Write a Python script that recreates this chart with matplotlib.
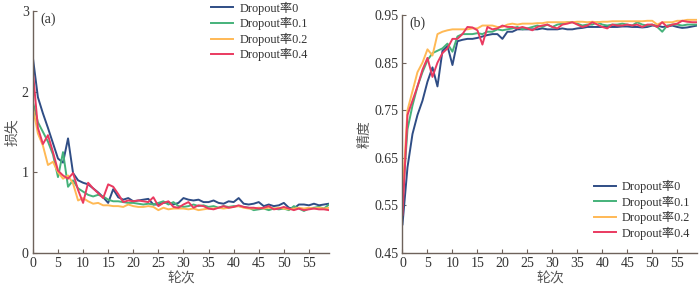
"""Loss and accuracy curves for different dropout rates."""

import matplotlib

matplotlib.use("Agg")
from matplotlib import pyplot as plt

SERIF = ["Liberation Serif", "Noto Sans CJK SC"]
CJK = ["Noto Sans CJK SC", "DejaVu Sans"]

epochs = list(range(60))
labels = ["Dropout率0", "Dropout率0.1", "Dropout率0.2", "Dropout率0.4"]
colors = ["#2f4d85", "#45b27a", "#ffb955", "#ea3a60"]

loss_d0 = [
	2.42, 1.93, 1.73, 1.55, 1.36, 1.17, 1.12, 1.42, 0.99, 0.90,
	0.87, 0.85, 0.80, 0.75, 0.69, 0.62, 0.79, 0.69, 0.66, 0.68,
	0.64, 0.65, 0.66, 0.67, 0.60, 0.60, 0.62, 0.63, 0.60, 0.62,
	0.68, 0.66, 0.65, 0.66, 0.63, 0.63, 0.65, 0.62, 0.61, 0.64,
	0.63, 0.68, 0.61, 0.60, 0.61, 0.63, 0.58, 0.60, 0.58, 0.59,
	0.62, 0.56, 0.55, 0.60, 0.60, 0.59, 0.61, 0.59, 0.60, 0.61,
]
loss_d1 = [
	1.87, 1.62, 1.50, 1.38, 1.22, 0.94, 1.25, 0.82, 0.90, 0.80,
	0.76, 0.72, 0.70, 0.72, 0.70, 0.66, 0.64, 0.64, 0.63, 0.62,
	0.62, 0.61, 0.60, 0.61, 0.60, 0.62, 0.64, 0.60, 0.63, 0.58,
	0.57, 0.58, 0.60, 0.58, 0.59, 0.57, 0.58, 0.56, 0.58, 0.57,
	0.58, 0.58, 0.57, 0.56, 0.53, 0.54, 0.55, 0.53, 0.55, 0.54,
	0.55, 0.53, 0.58, 0.55, 0.52, 0.55, 0.56, 0.57, 0.55, 0.60,
]
loss_d2 = [
	1.80, 1.48, 1.33, 1.09, 1.13, 1.00, 0.92, 0.96, 0.86, 0.65,
	0.68, 0.64, 0.61, 0.62, 0.59, 0.59, 0.58, 0.58, 0.57, 0.60,
	0.58, 0.57, 0.57, 0.58, 0.57, 0.53, 0.56, 0.54, 0.55, 0.55,
	0.55, 0.54, 0.55, 0.53, 0.54, 0.55, 0.55, 0.56, 0.55, 0.56,
	0.57, 0.58, 0.56, 0.55, 0.55, 0.56, 0.55, 0.56, 0.55, 0.56,
	0.55, 0.54, 0.55, 0.56, 0.55, 0.56, 0.55, 0.56, 0.55, 0.56,
]
loss_d4 = [
	2.25, 1.55, 1.35, 1.46, 1.25, 1.02, 0.96, 0.92, 0.99, 0.78,
	0.62, 0.87, 0.80, 0.74, 0.68, 0.85, 0.82, 0.73, 0.63, 0.65,
	0.64, 0.65, 0.64, 0.63, 0.69, 0.58, 0.62, 0.64, 0.57, 0.56,
	0.60, 0.63, 0.56, 0.59, 0.58, 0.55, 0.54, 0.56, 0.58, 0.56,
	0.57, 0.59, 0.57, 0.56, 0.56, 0.55, 0.56, 0.58, 0.54, 0.55,
	0.57, 0.55, 0.53, 0.55, 0.53, 0.54, 0.55, 0.54, 0.54, 0.53,
]

acc_d0 = [
	0.510, 0.630, 0.700, 0.740, 0.770, 0.810, 0.840, 0.800, 0.875, 0.885,
	0.845, 0.895, 0.898, 0.900, 0.900, 0.902, 0.905, 0.908, 0.910, 0.910,
	0.900, 0.915, 0.915, 0.920, 0.920, 0.920, 0.920, 0.920, 0.922, 0.920,
	0.920, 0.920, 0.922, 0.920, 0.920, 0.922, 0.923, 0.925, 0.925, 0.925,
	0.925, 0.925, 0.925, 0.925, 0.926, 0.926, 0.925, 0.925, 0.924, 0.925,
	0.928, 0.928, 0.925, 0.926, 0.928, 0.925, 0.923, 0.924, 0.926, 0.928,
]
acc_d1 = [
	0.560, 0.710, 0.760, 0.800, 0.830, 0.855, 0.870, 0.875, 0.880, 0.890,
	0.873, 0.905, 0.910, 0.910, 0.910, 0.912, 0.910, 0.915, 0.915, 0.920,
	0.918, 0.920, 0.922, 0.925, 0.920, 0.922, 0.925, 0.928, 0.925, 0.930,
	0.925, 0.930, 0.932, 0.935, 0.935, 0.932, 0.928, 0.930, 0.930, 0.935,
	0.930, 0.928, 0.930, 0.930, 0.932, 0.930, 0.928, 0.935, 0.930, 0.928,
	0.930, 0.925, 0.915, 0.928, 0.930, 0.930, 0.928, 0.930, 0.930, 0.930,
]
acc_d2 = [
	0.570, 0.750, 0.790, 0.830, 0.850, 0.878, 0.865, 0.910, 0.915, 0.918,
	0.920, 0.920, 0.920, 0.920, 0.922, 0.922, 0.928, 0.928, 0.928, 0.925,
	0.925, 0.930, 0.932, 0.930, 0.932, 0.932, 0.932, 0.933, 0.933, 0.935,
	0.935, 0.935, 0.935, 0.935, 0.935, 0.936, 0.936, 0.935, 0.936, 0.935,
	0.936, 0.936, 0.937, 0.937, 0.937, 0.937, 0.937, 0.937, 0.937, 0.938,
	0.938, 0.930, 0.935, 0.935, 0.935, 0.938, 0.938, 0.940, 0.940, 0.940,
]
acc_d4 = [
	0.530, 0.740, 0.770, 0.800, 0.835, 0.860, 0.820, 0.850, 0.870, 0.880,
	0.900, 0.900, 0.910, 0.925, 0.924, 0.918, 0.888, 0.925, 0.920, 0.922,
	0.928, 0.925, 0.925, 0.922, 0.925, 0.922, 0.918, 0.925, 0.928, 0.930,
	0.925, 0.922, 0.930, 0.932, 0.935, 0.930, 0.925, 0.928, 0.935, 0.930,
	0.925, 0.922, 0.930, 0.928, 0.928, 0.930, 0.928, 0.930, 0.925, 0.930,
	0.930, 0.925, 0.935, 0.925, 0.930, 0.932, 0.938, 0.936, 0.935, 0.935,
]

loss_series = [loss_d0, loss_d1, loss_d2, loss_d4]
acc_series = [acc_d0, acc_d1, acc_d2, acc_d4]

x_ticks = list(range(0, 60, 5))
loss_ticks = [0, 1, 2, 3]
acc_ticks = [0.45, 0.55, 0.65, 0.75, 0.85, 0.95]

spine_color = "#6e625b"
text_color = "#333333"

fig = plt.figure(figsize=(7.0, 2.9), dpi=100)
ax_a = fig.add_axes([0.047, 0.128, 0.423, 0.834])
ax_b = fig.add_axes([0.575, 0.128, 0.421, 0.820])


def _style_axes(ax, yticks, ylabel, tag, ylim, yfmt):
	ax.set_xlim(0, 59)
	ax.set_ylim(*ylim)
	ax.set_xticks(x_ticks)
	ax.set_yticks(yticks)
	ax.set_yticklabels([yfmt.format(t) for t in yticks])
	for side in ["top", "right"]:
		ax.spines[side].set_visible(False)
	for side in ["left", "bottom"]:
		ax.spines[side].set_color(spine_color)
		ax.spines[side].set_linewidth(1.0)
	ax.tick_params(
		direction="in", length=3, width=0.8, color=spine_color,
		labelcolor=text_color, labelsize=10, pad=3,
	)
	for lab in ax.get_xticklabels() + ax.get_yticklabels():
		lab.set_family(SERIF)
	ax.set_xlabel("轮次", family=CJK, fontsize=10, color="#555555", labelpad=1)
	ax.set_ylabel(ylabel, family=CJK, fontsize=10, color="#555555", labelpad=2)
	ax.text(
		0.025, 0.995, tag, transform=ax.transAxes, ha="left", va="top",
		family=SERIF, fontsize=10, color=text_color,
	)


for series, color, label in zip(loss_series, colors, labels, strict=True):
	ax_a.plot(epochs, series, color=color, linewidth=1.4, label=label)
for series, color, label in zip(acc_series, colors, labels, strict=True):
	ax_b.plot(epochs, series, color=color, linewidth=1.4, label=label)

_style_axes(ax_a, loss_ticks, "损失", "(a)", (0, 3), "{:d}")
_style_axes(ax_b, acc_ticks, "精度", "(b)", (0.45, 0.95), "{:.2f}")

legend_kw = dict(
	frameon=False, prop={"family": SERIF, "size": 8.8}, handlelength=1.8,
	handletextpad=0.5, labelspacing=0.2, borderpad=0.1, borderaxespad=0,
)
leg_a = ax_a.legend(loc="upper left", bbox_to_anchor=(0.598, 1.045), **legend_kw)
leg_b = ax_b.legend(loc="lower left", bbox_to_anchor=(0.645, 0.05), **legend_kw)
for leg in (leg_a, leg_b):
	for t in leg.get_texts():
		t.set_color(text_color)

fig.savefig("out.png", dpi=100)
